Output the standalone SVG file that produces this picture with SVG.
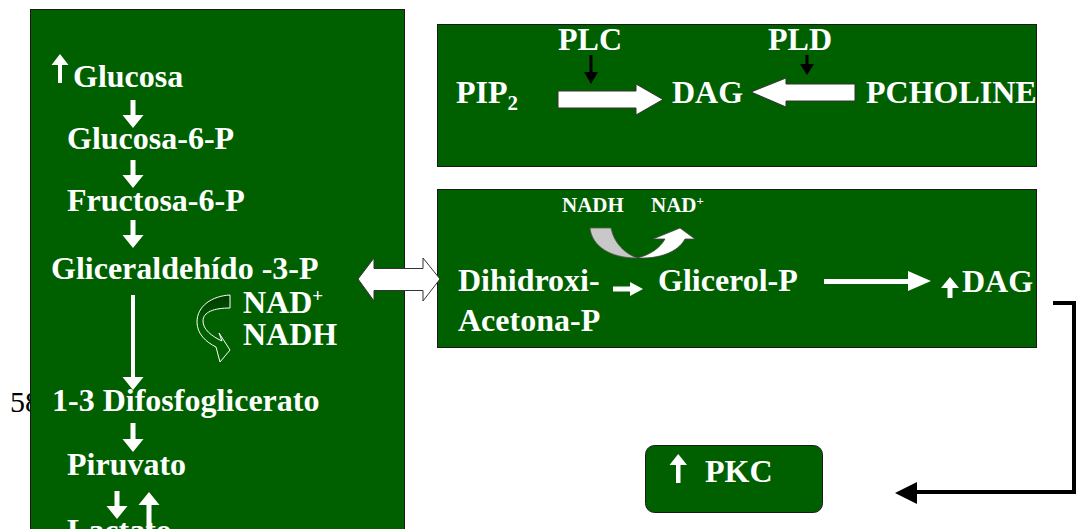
<svg xmlns="http://www.w3.org/2000/svg" width="1077" height="529" viewBox="0 0 1077 529">
<defs>
<style>
.box{fill:#006000;stroke:#1a1a1a;stroke-width:1}
.t{font-family:"Liberation Serif","Times New Roman",serif;font-weight:bold;font-size:32px;fill:#ffffff}
.s{font-family:"Liberation Serif","Times New Roman",serif;font-weight:bold;font-size:21px;fill:#ffffff}
.w{fill:#ffffff}
.blk{fill:#000000}
.ol{fill:#ffffff;stroke:#333333;stroke-width:1}
</style>
<linearGradient id="cg" x1="0" y1="0" x2="0" y2="1">
<stop offset="0" stop-color="#003a00"/>
<stop offset="0.45" stop-color="#006000"/>
<stop offset="1" stop-color="#006000"/>
</linearGradient>
</defs>
<rect width="1077" height="529" fill="#ffffff"/>
<text x="10" y="412" font-family="Liberation Serif,serif" font-size="30" fill="#000000">58</text>

<g id="glycolysis">
<rect class="box" x="30.5" y="9.5" width="374" height="540"/>
<path class="w" d="M58,83 h4 v-18 h6.5 l-8.5,-11 l-8.5,11 h6.5 z"/>
<text class="t" x="73" y="87">Glucosa</text>
<path class="w" d="M130.5,100 h5 v15 h8 l-10.5,13 l-10.5,-13 h8 z"/>
<text class="t" x="67" y="149">Glucosa-6-P</text>
<path class="w" d="M130.5,160 h5 v15 h8 l-10.5,13 l-10.5,-13 h8 z"/>
<text class="t" x="67" y="211">Fructosa-6-P</text>
<path class="w" d="M130.5,220 h5 v15 h8 l-10.5,13 l-10.5,-13 h8 z"/>
<text class="t" x="51" y="279">Gliceraldehído -3-P</text>
<path class="w" d="M131,295 h4 v82 h8.5 l-10.5,13 l-10.5,-13 h8.5 z"/>
<path d="M230,295 C212,296 197,306 197,322 C197,334 206,342 216,347 L220,362 L230,350 L219,333 L222,341 C211,336 203,329 203,321 C203,312 214,308 230,308 Z" fill="url(#cg)" stroke="#ffffff" stroke-width="1"/>
<text class="t" x="243" y="313">NAD<tspan font-size="19" dy="-11">+</tspan></text>
<text class="t" x="243" y="345">NADH</text>
<text class="t" x="52" y="411">1-3 Difosfoglicerato</text>
<path class="w" d="M130.5,423 h5 v16 h8 l-10.5,13 l-10.5,-13 h8 z"/>
<text class="t" x="67" y="475">Piruvato</text>
<path class="w" d="M114.5,491 h5 v15 h8 l-10.5,13 l-10.5,-13 h8 z"/>
<path class="w" d="M146.5,535 h5 v-30 h8 l-10.5,-13 l-10.5,13 h8 z"/>
<text class="t" x="67" y="541">Lactato</text>
</g>

<g id="dag-sources">
<rect class="box" x="437.5" y="24.5" width="599" height="142"/>
<text class="t" x="558" y="50">PLC</text>
<text class="t" x="768" y="50">PLD</text>
<path class="blk" d="M589.5,55 h3 v17 h5.5 l-7,12 l-7,-12 h5.5 z"/>
<path class="blk" d="M805.5,55 h3 v9 h5.5 l-7,11 l-7,-11 h5.5 z"/>
<text class="t" x="456" y="103">PIP<tspan font-size="21" dy="7">2</tspan></text>
<path class="ol" d="M558,91 H636 V84 L663,99.5 L636,115 V108 H558 Z"/>
<text class="t" x="672" y="103">DAG</text>
<path class="ol" d="M855,84 H786 V78 L751,92 L786,107 V101 H855 Z"/>
<text class="t" x="866" y="103">PCHOLINE</text>
</g>

<g id="glycerol-pathway">
<rect class="box" x="437.5" y="189.5" width="599" height="158"/>
<text class="s" x="562" y="212">NADH</text>
<text class="s" x="651" y="212">NAD<tspan font-size="13" dy="-7">+</tspan></text>
<path d="M590,228 C592,246 610,258 637,258 C626,254 614,244 611,228 Z" fill="#c8c8c8" stroke="#555555" stroke-width="0.8"/>
<path d="M637,258 C650,255 660,248 665,239 L653,239 L680,228 L695,239 L685,239 C678,252 660,259 637,258 Z" fill="#ffffff" stroke="#444444" stroke-width="0.8"/>
<text class="t" x="458" y="291">Dihidroxi-</text>
<path class="w" d="M613,286.5 H630 V282 L643,289 L630,296 V291.5 H613 Z"/>
<text class="t" x="658" y="291">Glicerol-P</text>
<path class="w" d="M824,279 H908 V271 L931,281 L908,291 V284 H824 Z"/>
<path class="w" d="M947.5,298 h5 v-10 h6.5 l-9,-11 l-9,11 h6.5 z"/>
<text class="t" x="962" y="292">DAG</text>
<text class="t" x="458" y="331">Acetona-P</text>
</g>

<g id="pkc">
<rect class="box" x="645.5" y="445.5" width="177" height="67" rx="9"/>
<path class="w" d="M676,483 h4.5 v-18 h6.5 l-8.75,-11 l-8.75,11 h6.5 z"/>
<text class="t" x="705" y="482">PKC</text>
</g>

<g id="connectors">
<path class="ol" d="M358,279 L374,258 V268.5 H423 V258 L440,279 L423,301 V290.5 H374 V301 Z"/>
<path d="M1053,303 H1074 V492 H915" fill="none" stroke="#000000" stroke-width="4"/>
<path class="blk" d="M917,482 L895,493 L917,504 Z"/>
</g>
</svg>
